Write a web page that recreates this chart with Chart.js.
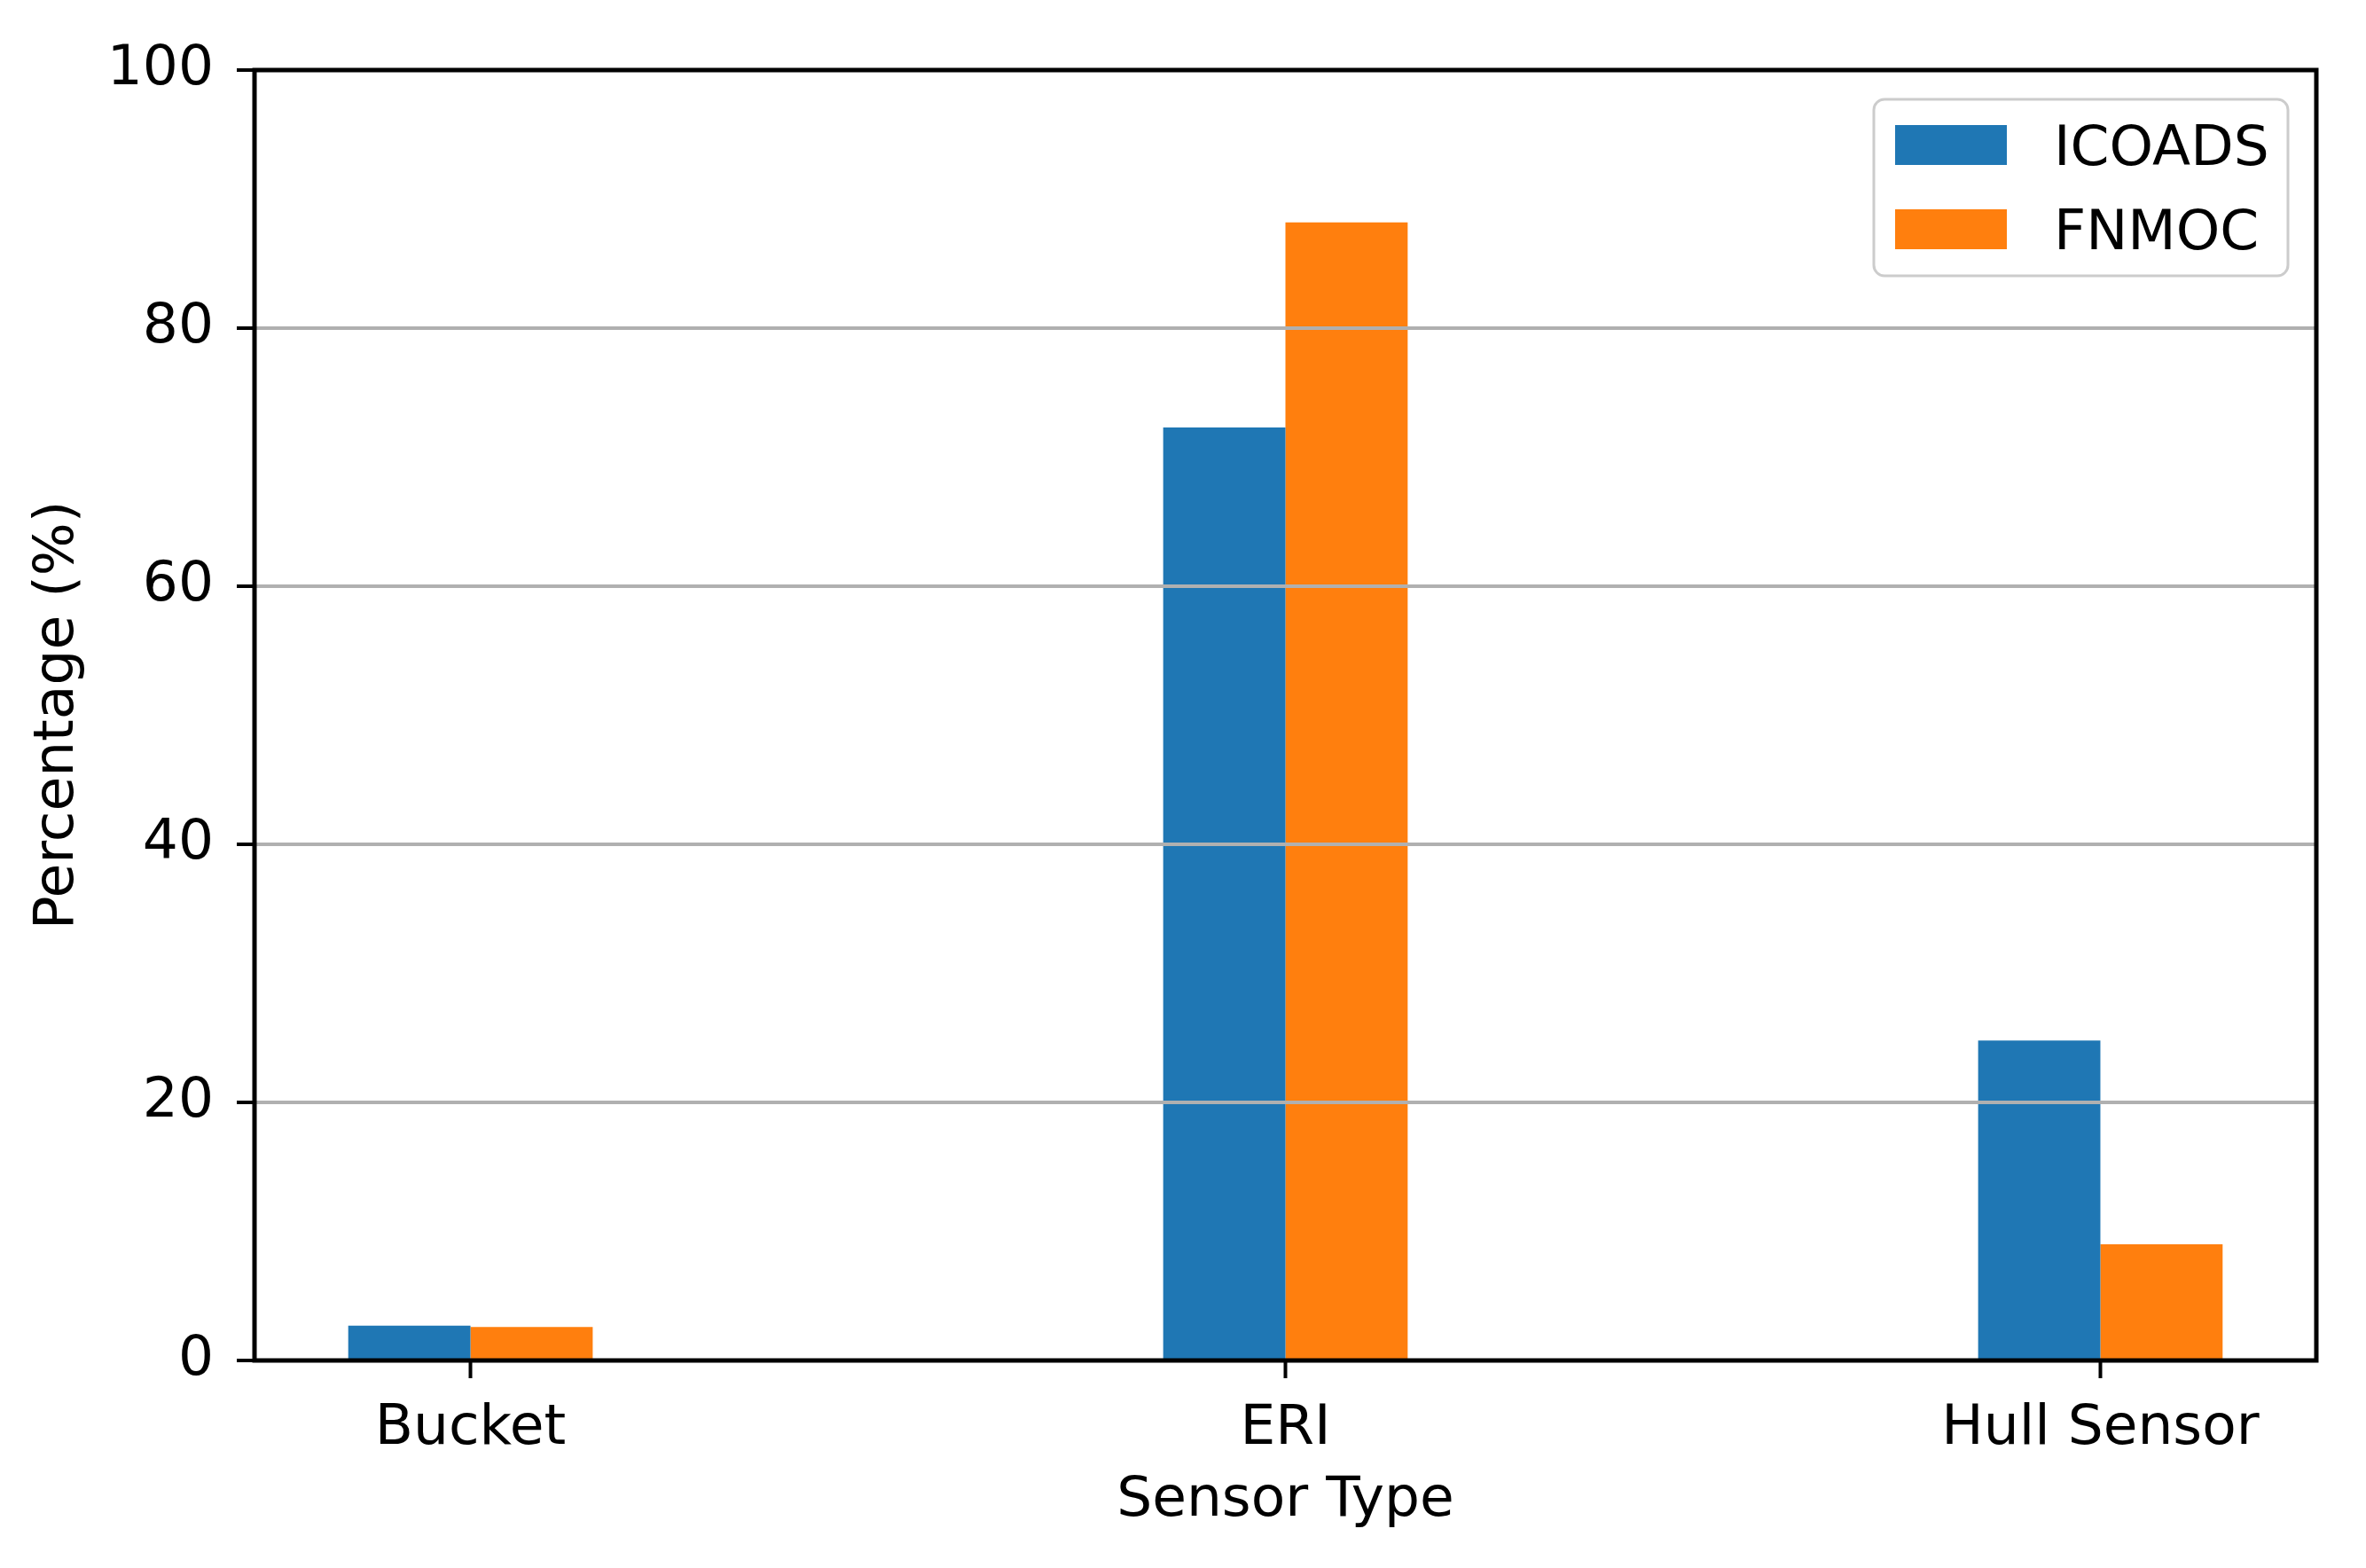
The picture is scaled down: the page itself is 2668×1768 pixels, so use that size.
<!DOCTYPE html>
<html>
<head>
<meta charset="utf-8">
<script src="https://cdn.jsdelivr.net/npm/chart.js@4.4.1/dist/chart.umd.min.js"></script>
<style>
  html, body { margin: 0; padding: 0; background: #fff; }
  canvas { display: block; }
</style>
</head>
<body>
<canvas id="sensorChart" width="2668" height="1768"></canvas>
<script>
const categories = ['Bucket', 'ERI', 'Hull Sensor'];
const icoads = [2.7, 72.3, 24.8];
const fnmoc = [2.6, 88.2, 9.0];
const yTicks = [0, 20, 40, 60, 80, 100];

const FONT = '"DejaVu Sans", sans-serif';
const FSIZE = 63;
Chart.defaults.font.family = FONT;
Chart.defaults.font.size = FSIZE;
Chart.defaults.color = '#000';

function points(values){ return values.map((v, i) => ({ x: i, y: v })); }

// black frame round the plot area, drawn last so it covers grid and bars
const framePlugin = {
  id: 'frame',
  afterDraw(chart){
    const { ctx, chartArea: a } = chart;
    ctx.save();
    ctx.strokeStyle = '#000';
    ctx.lineWidth = 5;
    ctx.strokeRect(a.left, a.top, a.right - a.left, a.bottom - a.top);
    ctx.restore();
  }
};

// matplotlib-like boxed legend in the upper right corner
const boxLegend = {
  id: 'boxLegend',
  afterDraw(chart){
    const { ctx, chartArea: a } = chart;
    const w = 467, h = 199;
    const x = a.right - 32 - w, y = a.top + 33;
    ctx.save();
    ctx.beginPath();
    ctx.roundRect(x, y, w, h, 12);
    ctx.fillStyle = 'rgba(255,255,255,0.8)';
    ctx.fill();
    ctx.strokeStyle = '#cccccc';
    ctx.lineWidth = 3;
    ctx.stroke();
    ctx.font = FSIZE + 'px ' + FONT;
    ctx.textBaseline = 'alphabetic';
    chart.data.datasets.forEach((ds, i) => {
      const cy = y + 51 + i * 95;
      ctx.fillStyle = ds.backgroundColor;
      ctx.fillRect(x + 24, cy - 22, 126, 45);
      ctx.fillStyle = '#000';
      ctx.fillText(ds.label, x + 203, cy + 23);
    });
    ctx.restore();
  }
};

new Chart(document.getElementById('sensorChart'), {
  type: 'bar',
  data: {
    datasets: [
      { label: 'ICOADS', data: points(icoads), backgroundColor: '#1f77b4' },
      { label: 'FNMOC', data: points(fnmoc), backgroundColor: '#ff7f0e' }
    ]
  },
  options: {
    responsive: false,
    devicePixelRatio: 1,
    animation: false,
    layout: { padding: { top: 79, right: 56, left: 0, bottom: 0 } },
    datasets: { bar: { categoryPercentage: 0.3, barPercentage: 1, borderWidth: 0 } },
    plugins: { legend: { display: false }, tooltip: { enabled: false } },
    scales: {
      x: {
        type: 'linear',
        min: -0.265,
        max: 2.265,
        offset: false,
        afterBuildTicks: s => { s.ticks = categories.map((c, i) => ({ value: i })); },
        afterFit: s => { s.height = 234; },
        ticks: {
          padding: 20,
          callback: v => categories[v] ?? ''
        },
        grid: { offset: false, drawOnChartArea: false, tickLength: 20, tickColor: '#000', tickWidth: 4 },
        border: { display: false },
        title: { display: true, text: 'Sensor Type', padding: { top: 38, bottom: 38 } }
      },
      y: {
        min: 0,
        max: 100,
        afterBuildTicks: s => { s.ticks = yTicks.map(v => ({ value: v })); },
        afterFit: s => { s.width = 287; },
        ticks: { padding: 26 },
        grid: { color: '#b0b0b0', lineWidth: 4, tickLength: 20, tickColor: '#000', tickWidth: 4, z: 1 },
        border: { display: false },
        title: { display: true, text: 'Percentage (%)', padding: { top: 28, bottom: 28 } }
      }
    }
  },
  plugins: [framePlugin, boxLegend]
});
</script>
</body>
</html>
